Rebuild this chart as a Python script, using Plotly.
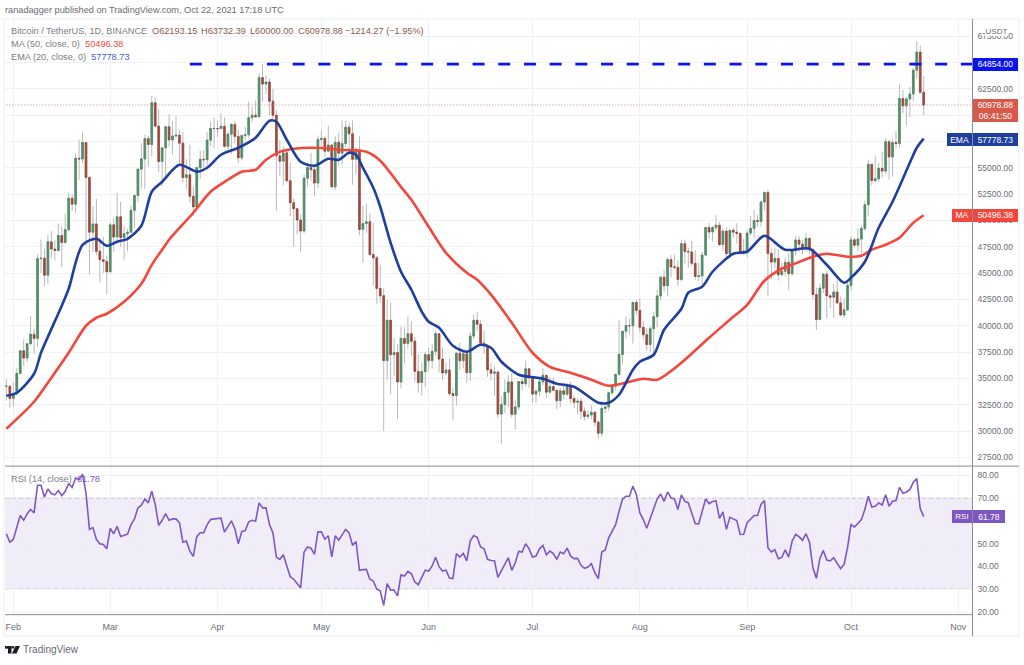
import pandas as pd
import plotly.graph_objects as go
from plotly.subplots import make_subplots

W, H = 1024, 665

start_date = "2021-01-30"
month_ticks = ["2021-02-01","2021-03-01","2021-04-01","2021-05-01","2021-06-01","2021-07-01","2021-08-01","2021-09-01","2021-10-01","2021-11-01"]
month_labels = ["Feb","Mar","Apr","May","Jun","Jul","Aug","Sep","Oct","Nov"]

opens = [34252,34262,
33092,33526,35466,37618,36936,38290,39186,38795,46374,46420,44807,47969,47287,47153,48577,47911,49133,52119,51552,55906,55841,57408,54087,48891,49676,47073,46276,46106,
45135,49587,48440,50349,48374,48751,48882,50971,52375,54884,55851,57773,57221,61188,58968,55605,56900,58912,57648,58030,58102,57351,54083,54340,52303,51293,55025,55817,55777,57635,58746,
58740,58720,58950,57051,58202,59129,57991,55953,58077,58142,59770,60007,59860,63575,62959,63159,61334,60006,56150,55633,56425,53787,51690,51125,50047,49004,54021,55033,54824,53555,
57697,57797,56578,57169,53200,57436,56393,57314,58862,58240,55816,56670,49150,49716,49880,46760,46456,43538,42849,36690,40526,37252,37449,34655,38796,38324,39241,38529,35663,34605,35641,
37253,36693,37568,39246,36829,35513,35796,33552,33380,37388,36675,37331,35546,39020,40516,40144,38349,38092,35820,35483,35600,31608,32509,33678,34663,31584,32283,34700,34494,35911,
35045,33504,33787,34668,35287,33690,34220,33863,32875,33815,33502,34259,33086,32729,32820,31880,31383,31520,31778,30839,29790,32144,32287,33634,34258,35381,37276,39473,40016,40000,42212,
41461,39846,39147,38207,39723,40862,42836,44614,43792,46285,45593,45555,44399,47800,47047,47016,45936,44686,44741,46717,49339,48905,49321,49546,47707,48993,46851,49069,48895,48767,46970,
47100,48810,49246,49999,49915,51756,52663,46863,46048,46395,44850,45173,46026,44947,47127,48143,47753,47303,48293,47242,42960,40587,43561,44895,42839,42716,43208,42171,41026,41522,
43825,48165,47657,48233,49245,51493,55339,53798,53963,54963,54691,57484,56041,57401,57321,61593,60892,61553,62014,64280,66001,62193]

closes = [34262,33092,
33526,35466,37618,36936,38290,39186,38795,46374,46420,44807,47969,47287,47153,48577,47911,49133,52119,51552,55906,55841,57408,54087,48891,49676,47073,46276,46106,45135,
49587,48440,50349,48374,48751,48882,50971,52375,54884,55851,57773,57221,61188,58968,55605,56900,58912,57648,58030,58102,57351,54083,54340,52303,51293,55025,55817,55777,57635,58746,58740,
58720,58950,57051,58202,59129,57991,55953,58077,58142,59770,60007,59860,63575,62959,63159,61334,60006,56150,55633,56425,53787,51690,51125,50047,49004,54021,55033,54824,53555,57697,
57797,56578,57169,53200,57436,56393,57314,58862,58240,55816,56670,49150,49716,49880,46760,46456,43538,42849,36690,40526,37252,37449,34655,38796,38324,39241,38529,35663,34605,35641,37253,
36693,37568,39246,36829,35513,35796,33552,33380,37388,36675,37331,35546,39020,40516,40144,38349,38092,35820,35483,35600,31608,32509,33678,34663,31584,32283,34700,34494,35911,35045,
33504,33787,34668,35287,33690,34220,33863,32875,33815,33502,34259,33086,32729,32820,31880,31383,31520,31778,30839,29790,32144,32287,33634,34258,35381,37276,39473,40016,40000,42212,41461,
39846,39147,38207,39723,40862,42836,44614,43792,46285,45593,45555,44399,47800,47047,47016,45936,44686,44741,46717,49339,48905,49321,49546,47707,48993,46851,49069,48895,48767,46970,47100,
48810,49246,49999,49915,51756,52663,46863,46048,46395,44850,45173,46026,44947,47127,48143,47753,47303,48293,47242,42960,40587,43561,44895,42839,42716,43208,42171,41026,41522,43825,
48165,47657,48233,49245,51493,55339,53798,53963,54963,54691,57484,56041,57401,57321,61593,60892,61553,62014,64280,66001,62193,60978.88]

highs = [34967,34300,
34700,35984,37662,38708,38310,40955,39700,46794,48200,47310,48678,48985,48150,49700,49450,50650,52640,52530,56368,57700,58352,57500,54200,51374,52041,48370,48424,46700,
49829,50250,52640,51773,49448,49200,51450,52402,54900,57387,58150,58058,61844,61700,60633,56938,58999,60100,59450,59880,58592,58430,55830,57200,53229,55073,56700,56700,58400,59368,59800,
59490,60200,59791,58492,59272,59474,58655,58153,58894,61300,60800,61400,64000,64854,63800,63520,62506,60499,57600,57048,56757,55469,52130,51166,50591,54356,55500,56428,55200,58075,
58550,57972,58981,57200,58000,58360,59500,59464,59300,59500,57000,58000,51367,51560,50700,49800,46646,45800,43546,42451,42200,38829,38270,39920,39850,40900,40411,38877,37338,36488,37534,
37896,38225,39476,39289,37925,36480,36900,34068,37534,38400,37680,37449,39380,41064,41330,40527,39559,38200,36457,36139,35750,33298,34881,35298,35500,33000,34749,35297,36675,36000,
35036,33974,34945,35967,35294,35118,35059,33929,34100,34584,34594,34678,33340,33114,33185,32249,31949,32435,31888,31040,32858,32576,33650,34500,35398,40550,39542,40900,40640,42316,42448,
42599,40459,39772,39969,41350,43392,44700,45310,46454,46700,46743,46218,48144,48200,47399,48053,47160,45969,47033,49382,49757,49500,50500,49875,49247,49343,49171,49309,49757,48909,48246,
49130,50450,51000,50558,51900,52780,52920,47340,47399,47250,45980,46460,46880,47250,48500,48500,48170,48843,48372,47337,43639,44000,45000,45200,42996,43950,44350,42790,42600,44141,
48495,48360,49228,49536,51886,55750,55332,56100,55490,56561,57839,57680,57700,58532,62933,62400,61720,62695,64486,67000,66639,63732.39]

lows = [32900,32150,
32300,33400,35362,36161,36570,38215,37351,37988,45000,43727,43994,46400,46202,47047,45570,47822,48947,50901,50710,53863,55477,47622,44892,47003,46700,44106,45000,43016,
45042,47047,48100,47500,46300,47070,48896,49274,51789,53005,53025,55100,56078,58966,54600,53271,54123,57023,56270,57820,55450,53650,53000,51700,50427,51200,53950,54870,54900,57072,56873,
57935,58869,56900,56800,56317,57333,55473,55700,57654,57875,59369,59750,59791,61301,62020,60000,59580,50931,54221,53329,53600,50400,47500,48676,47044,48807,53222,53813,52330,53068,
57050,56035,56488,53057,52900,55200,55300,56975,56235,53400,54378,48600,46000,48805,46650,43825,42101,42207,30000,34850,33488,35200,31111,34031,36419,37800,37134,34684,33632,33379,34153,
35666,35920,37170,35555,34800,35258,33300,31000,32396,35784,35936,34600,34757,38730,39506,38116,37365,35129,34803,33347,31251,28805,31683,32286,31275,30151,31973,33862,34231,34099,
32711,32699,33316,34357,33125,33532,33777,32077,32261,33004,33310,32658,32202,31600,31133,31020,31164,31100,30429,29278,29482,31708,31925,33401,33851,35205,36383,38772,39200,38313,41000,
39422,38690,37627,37508,37332,39853,42446,43261,42779,44589,45341,43770,44217,45935,45500,45660,44376,44203,43927,46622,48285,48000,49028,47600,47126,46322,46364,48370,47800,46853,46700,
46513,48584,48316,49370,49450,50969,42843,44412,45513,44300,44722,44742,43370,44750,46700,47020,46800,47050,46830,42500,39600,40565,43100,40750,41675,40750,42098,40900,40753,41410,
43283,47430,47088,46891,49022,50382,53357,53617,53661,54080,54415,53879,54167,56818,56850,60150,58963,59844,61322,63481,62000,60000]

ma50_idx = [0,8,13,18,23,26,29,34,39,42,45,47,49,54,59,64,68,72,75,79,83,88,94,96,104,108,114,117,122,127,133,136,140,146,152,157,163,169,174,180,184,188,195,203,209,214,219,224,227,233,237,243,247,250,254,258,262,265]
ma50_val = [30218,32780,35060,37435,40000,40760,41140,42280,43990,45790,47220,48170,48930,50735,52730,53870,54630,54820,55770,56520,56810,56910,56810,56720,56530,55680,53200,51970,49400,46930,45030,44370,42950,40285,37435,36100,35535,34870,34300,34680,34965,34870,36485,38860,40570,41995,44275,45415,45795,46555,46840,46555,46650,47220,47695,48360,49785,50496.38]

ema20_idx = [0,3,8,10,12,16,18,22,26,29,32,35,39,42,45,50,55,58,62,67,72,76,78,81,85,89,93,96,99,101,103,106,108,111,114,117,120,122,125,129,133,137,140,143,148,151,155,159,164,171,174,177,181,183,187,190,195,197,201,204,210,214,219,225,232,237,242,244,248,252,256,261,263,265]
ema20_val = [33350,33635,35440,37435,38955,41900,43515,47695,48265,47600,47980,48265,49500,52730,53680,55295,54630,55010,56245,56910,57860,59475,59380,57670,55580,55200,55865,55770,56435,56245,55010,53110,51305,47885,45130,43420,41330,40380,39810,38100,37530,38195,37910,36580,35345,35155,34965,34490,34205,32685,32685,33445,35820,36580,37245,39620,41615,43135,43705,45130,46840,47030,48550,47220,47315,45795,44085,44560,46080,49310,51780,55485,56910,57778.73]

rsi = [54.3,50.6,51.8,56.9,62.3,60.2,63.1,64.9,63.4,75.5,75.5,70.3,73.9,71.9,71.3,73.2,71,72.9,76.2,74.6,78.7,78,80.4,72.2,56.2,57,51.8,49.9,49.6,47.7,
56.6,54.3,57.5,53.1,53.5,54.1,58.3,60.8,65.6,66.8,69.5,67.8,72.9,67.1,58,60.2,63.1,60.2,60.8,60.8,59.1,50.6,51.1,46.7,44.4,53,54.7,54.7,58.3,60.5,
60.8,60.8,61.1,55,57.6,59.9,56.5,49.9,55.3,55.7,59.5,60.2,59.8,67.8,65.6,65.6,58.3,54.7,44.1,43.1,45.1,40.2,35.5,34.4,32.5,30.7,46.3,48.5,48,45.3,
55.1,55.1,51.9,53.4,44.2,53.4,51.5,53.8,56.2,54.7,49.2,50.9,38.3,38.6,38.7,34.4,33.6,30,29.3,23,32.5,29.6,29.7,27.1,36.3,35.8,37.8,36.8,33.2,32,
35.1,38.4,38,40.2,44,39.9,38,38.4,34.9,34.7,45.6,44.1,45.7,42.4,51.1,53.5,52.7,48.5,47.7,43.1,42.6,42.5,35.2,38,41.2,43.8,38.3,41.6,46.6,46.3,
49.9,47.7,44.1,44.5,47.7,49.2,45.1,46.7,45.6,43.1,46.3,45.6,48,44.5,43.4,43.5,40.5,39.2,39.7,41.2,37.3,34.7,46.3,47.2,52.5,55.4,58.3,64.2,69.5,70.7,
70.7,75.1,71.4,63.4,60.5,56.7,61.3,65.6,69.5,71.7,68.5,72.6,70,69.5,64.9,71.3,68.5,67.8,63.4,58.8,58.6,64.2,69.5,67.5,68.4,68.7,61,63.9,56.2,61.5,
60.8,60.1,54,54.1,59.1,60.5,62.3,62.3,67.1,68.8,48.2,46.3,47.3,43.4,44,47.2,44.1,51.1,54,53,51.4,54.3,50.6,39.4,34.8,43.4,47,42.8,42.4,43.8,
41.2,39,40.9,48.2,58.3,57.3,58.8,60.5,64.9,70.7,66,66.3,67.8,66.9,71.4,66.3,68.5,68.8,74.6,72,72.6,73.6,76.8,78.4,65.3,61.78]

price_ticks = [27500,30000,32500,35000,37500,40000,42500,45000,47500,50000,52500,55000,57500,60000,62500,65000,67500]
price_hidden = [57500,60000,65000]
rsi_ticks = [20,30,40,50,60,70,80]
rsi_hidden = [60]
rsi_levels = [30,50,70]
resistance = 64854.0
resistance_start = "2021-03-24"
last_price = 60978.88

assert all(len(a) == 266 for a in (opens, highs, lows, closes, rsi))
assert len(ma50_idx) == len(ma50_val) and len(ema20_idx) == len(ema20_val)

dates = pd.date_range(start_date, periods=len(closes), freq="D")
x_range = ["2021-01-29 14:24", "2021-11-05 02:24"]

def px(x): return x / W
def py(y): return 1 - y / H

GREEN, GREEN_D = "#53996f", "#3f7d58"
RED, RED_D = "#b04a3c", "#8f3a2e"
WICK = "#b9b9b9"
NAVY, MARED, PURPLE = "#1f3fa0", "#f4473b", "#7e57c2"
GRID = "#f0f1f4"
AXIS = "#8a8d95"
TEXT = "#6b6e76"
FONT = "Liberation Sans"

fig = make_subplots(rows=2, cols=1, shared_xaxes=True)

fig.add_trace(go.Candlestick(x=dates, open=opens, high=highs, low=lows, close=closes, whiskerwidth=0,
    increasing=dict(line=dict(color=WICK, width=1), fillcolor=WICK),
    decreasing=dict(line=dict(color=WICK, width=1), fillcolor=WICK), hoverinfo="skip"), row=1, col=1)
body_hi = [max(o, c) for o, c in zip(opens, closes)]
body_lo = [min(o, c) for o, c in zip(opens, closes)]
fig.add_trace(go.Candlestick(x=dates, open=opens, high=body_hi, low=body_lo, close=closes, whiskerwidth=0,
    increasing=dict(line=dict(color=GREEN_D, width=0.6), fillcolor=GREEN),
    decreasing=dict(line=dict(color=RED_D, width=0.6), fillcolor=RED)), row=1, col=1)

fig.add_trace(go.Scatter(x=[dates[0], x_range[1]], y=[last_price, last_price], mode="lines",
    line=dict(color="#d9776b", width=1, dash="1px,2px")), row=1, col=1)
fig.add_trace(go.Scatter(x=[dates[i] for i in ma50_idx], y=ma50_val, mode="lines",
    line=dict(color=MARED, width=2.6, shape="spline", smoothing=0.8)), row=1, col=1)
fig.add_trace(go.Scatter(x=[dates[i] for i in ema20_idx], y=ema20_val, mode="lines",
    line=dict(color=NAVY, width=2.6, shape="spline", smoothing=0.8)), row=1, col=1)
fig.add_trace(go.Scatter(x=[resistance_start, x_range[1]], y=[resistance, resistance], mode="lines",
    line=dict(color="#0a14f0", width=2.6, dash="12px,13.7px")), row=1, col=1)
fig.add_trace(go.Scatter(x=dates, y=rsi, mode="lines", line=dict(color=PURPLE, width=1.6)), row=2, col=1)

shapes = [dict(type="rect", xref="paper", yref="y2", x0=px(5), x1=px(972.5), y0=rsi_levels[0], y1=rsi_levels[2],
               fillcolor="rgba(126,87,194,0.11)", line_width=0, layer="below")]
for lv in rsi_levels:
    shapes.append(dict(type="line", xref="paper", yref="y2", x0=px(5), x1=px(972.5), y0=lv, y1=lv,
                       line=dict(color="#9a9aa2", width=1, dash="4px,3px"), layer="below"))
shapes.append(dict(type="rect", xref="paper", yref="paper", x0=px(4), x1=px(1019), y0=py(19), y1=py(638),
                   line=dict(color="#eceef1", width=1), layer="below"))
for (x0, y0, x1, y1) in [(972.5, 19, 972.5, 638), (5, 467.5, 1019, 467.5), (5, 616.5, 972.5, 616.5)]:
    shapes.append(dict(type="line", xref="paper", yref="paper", x0=px(x0), x1=px(x1), y0=py(y0), y1=py(y1),
                       line=dict(color=AXIS, width=1)))
LOGO = "#1a1d26"
for (x0, y0, x1, y1) in [(5, 648, 11.5, 650.6), (8, 648, 11.5, 655.5)]:
    shapes.append(dict(type="rect", xref="paper", yref="paper", x0=px(x0), x1=px(x1), y0=py(y0), y1=py(y1),
                       fillcolor=LOGO, line_width=0))
shapes.append(dict(type="circle", xref="paper", yref="paper", x0=px(11.8), x1=px(14.4), y0=py(648), y1=py(650.6),
                   fillcolor=LOGO, line_width=0))
shapes.append(dict(type="path", xref="paper", yref="paper", line_width=0, fillcolor=LOGO,
                   path=f"M {px(15.5)} {py(648)} L {px(20)} {py(648)} L {px(16.5)} {py(655.5)} L {px(12)} {py(655.5)} Z"))

def label(text, x, y, size=9, color=TEXT, anchor="left"):
    return dict(text=text, xref="paper", yref="paper", x=px(x), y=py(y), xanchor=anchor, yanchor="middle",
                showarrow=False, font=dict(family=FONT, size=size, color=color), borderwidth=0, borderpad=0)

def box(text, x0, x1, y0, y1, bg, color="#ffffff", size=8.5):
    return dict(text=text, xref="paper", yref="paper", x=px(x0), y=py((y0 + y1) / 2), xanchor="left", yanchor="middle",
                width=x1 - x0, height=y1 - y0, align="center", valign="middle", showarrow=False, bgcolor=bg,
                borderwidth=0, borderpad=0, font=dict(family=FONT, size=size, color=color))

VAL = "#8d5a52"
GREY = "#7b7e86"
annots = [
    label("ranadagger published on TradingView.com, Oct 22, 2021 17:18 UTC", 5, 10, 9.2, "#6a6c72"),
    label("Bitcoin / TetherUS, 1D, BINANCE", 11, 31, 9.2, GREY),
    label("O62193.15", 152, 31, 9.2, VAL),
    label("H63732.39", 201, 31, 9.2, VAL),
    label("L60000.00", 250, 31, 9.2, VAL),
    label("C60978.88", 298, 31, 9.2, VAL),
    label("−1214.27 (−1.95%)", 345, 31, 9.2, VAL),
    label(f'MA (50, close, 0)  <span style="color:{MARED}">50496.38</span>', 11, 44, 9.2, GREY),
    label(f'EMA (20, close, 0)  <span style="color:#3f5fbf">57778.73</span>', 11, 57, 9.2, GREY),
    label(f'RSI (14, close)  <span style="color:{PURPLE}">61.78</span>', 11, 480, 9.2, GREY),
    label("TradingView", 23, 651.5, 10, "#666a72"),
    box("USDT", 985, 1008, 26, 36, "#ffffff", "#6b6e76", 8),
    box("64854.00", 973, 1018, 58, 70.5, "#0a14f0"),
    box("60978.88<br>06:41:50", 973, 1018, 99, 122, "#d9584a"),
    box("EMA", 947, 972, 133, 146, NAVY),
    box("57778.73", 973, 1018, 133, 146, NAVY),
    box("MA", 952, 972, 210, 222.5, MARED),
    box("50496.38", 973, 1018, 210, 222.5, MARED),
    box("RSI", 952, 972, 512, 525, PURPLE, size=8),
    box("61.78", 973, 1005, 512, 525, PURPLE),
]

fig.update_layout(
    width=W, height=H, margin=dict(l=0, r=0, t=0, b=0), paper_bgcolor="#ffffff", plot_bgcolor="#ffffff",
    showlegend=False, shapes=shapes, annotations=annots, font=dict(family=FONT, size=9, color=TEXT),
    hovermode=False,
)
fig.update_xaxes(domain=[px(5), px(972.5)], range=x_range, type="date", tickvals=month_ticks, ticktext=month_labels,
                 showgrid=True, gridcolor=GRID, gridwidth=1, zeroline=False, rangeslider=dict(visible=False),
                 showline=False, ticks="", tickfont=dict(family=FONT, size=9, color=TEXT))
fig.update_xaxes(showticklabels=False, row=1, col=1)
fig.update_xaxes(showticklabels=True, ticklabelstandoff=5, row=2, col=1)
fig.update_yaxes(domain=[py(467.5), py(19)], range=[26666, 69150], side="right", tickvals=price_ticks,
                 ticktext=["" if v in price_hidden else f"{v:.2f}" for v in price_ticks], gridcolor=GRID,
                 zeroline=False, showline=False, ticks="", ticklabelstandoff=4,
                 tickfont=dict(family=FONT, size=8.5, color=TEXT), row=1, col=1)
fig.update_yaxes(domain=[py(616.5), py(467.5)], range=[18.9, 83.9], side="right", tickvals=rsi_ticks,
                 ticktext=["" if v in rsi_hidden else f"{v:.2f}" for v in rsi_ticks], gridcolor=GRID,
                 zeroline=False, showline=False, ticks="", ticklabelstandoff=4,
                 tickfont=dict(family=FONT, size=8.5, color=TEXT), row=2, col=1)

fig.write_html("out.html", config=dict(displayModeBar=False), post_script="document.body.style.margin='0';")
